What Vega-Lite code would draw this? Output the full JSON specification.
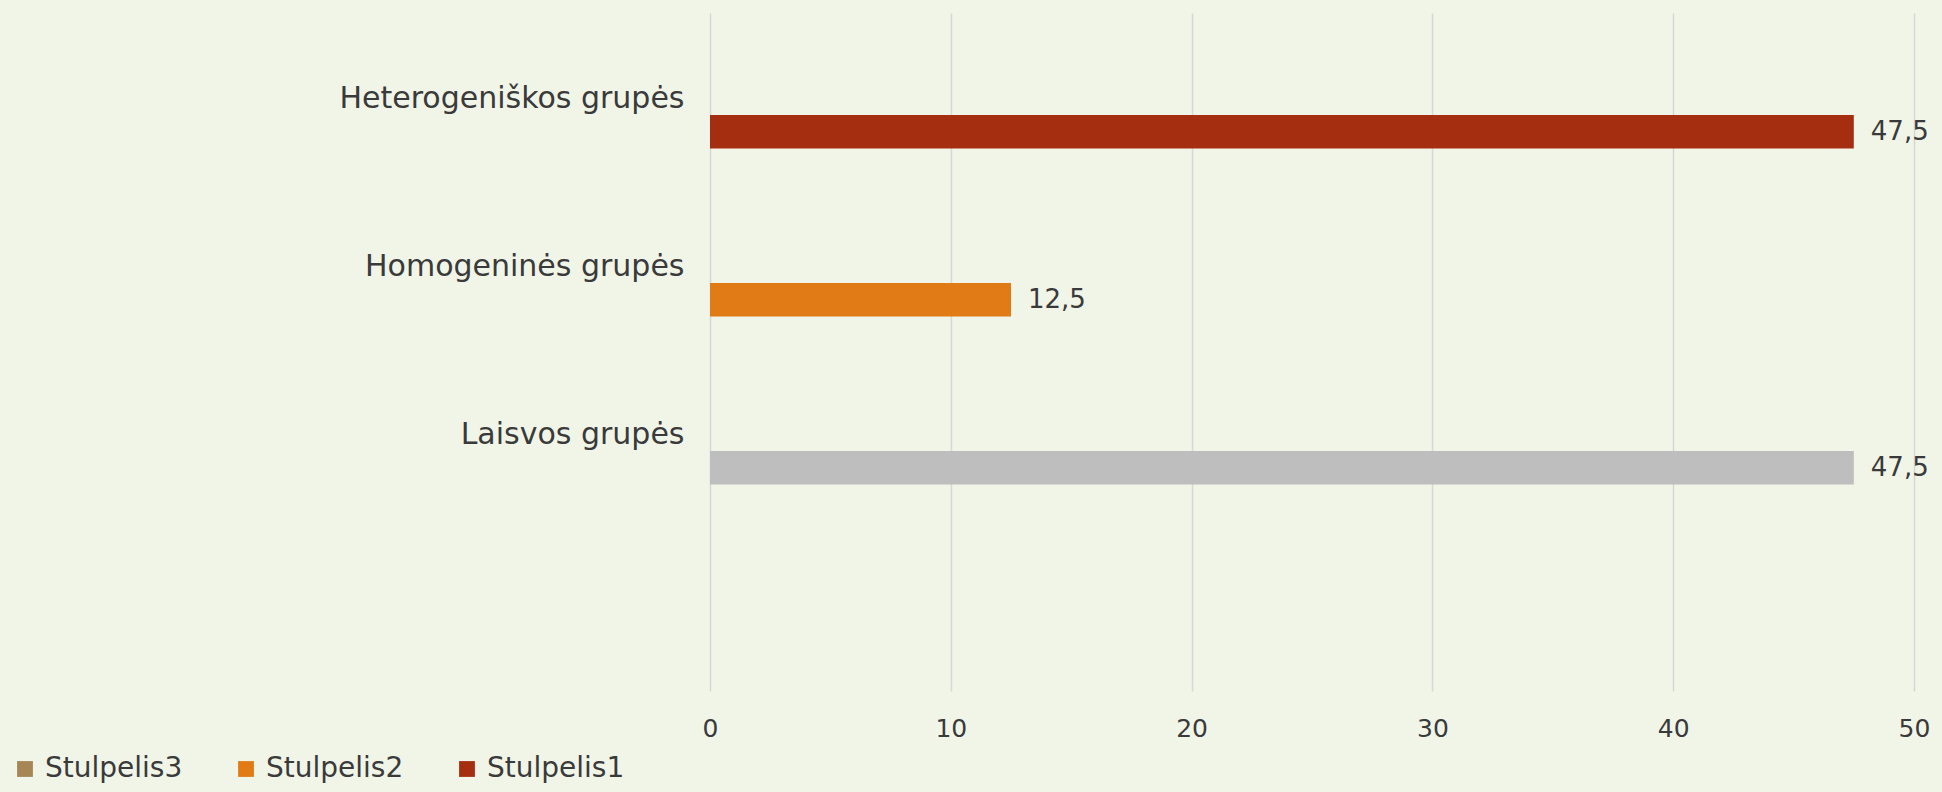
{
  "$schema": "https://vega.github.io/schema/vega-lite/v6.json",
  "width": 1204,
  "height": 672,
  "autosize": {"type": "none"},
  "padding": {"left": 710, "top": 13, "right": 28, "bottom": 107},
  "background": "#F1F5E8",
  "config": {
    "view": {"stroke": null},
    "font": "DejaVu Sans",
    "locale": {"number": {"decimal": ",", "thousands": " ", "grouping": [3], "currency": ["", " €"]}}
  },
  "data": {
    "values": [
      {"category": "Heterogeniškos grupės", "series": "Stulpelis1", "value": 47.5},
      {"category": "Homogeninės grupės", "series": "Stulpelis2", "value": 12.5},
      {"category": "Laisvos grupės", "series": "Stulpelis3", "value": 47.5}
    ]
  },
  "encoding": {
    "y": {
      "field": "category",
      "type": "nominal",
      "sort": ["Heterogeniškos grupės", "Homogeninės grupės", "Laisvos grupės"],
      "scale": {"paddingInner": 0.8, "paddingOuter": 0.9, "align": 0.337},
      "axis": {
        "title": null,
        "domain": false,
        "ticks": false,
        "grid": false,
        "labelOffset": -33,
        "labelPadding": 26,
        "labelLimit": 800,
        "labelFontSize": 30,
        "labelColor": "#3A3A3A",
        "labelFont": "DejaVu Sans"
      }
    },
    "x": {
      "field": "value",
      "type": "quantitative",
      "scale": {"domain": [0, 50], "nice": false},
      "axis": {
        "title": null,
        "values": [0, 10, 20, 30, 40, 50],
        "domain": false,
        "grid": true,
        "gridColor": "#D6D6D6",
        "gridWidth": 1.5,
        "tickColor": "#D6D6D6",
        "tickWidth": 1.5,
        "tickSize": 6,
        "labelFlush": false,
        "labelPadding": 25,
        "labelFontSize": 25,
        "labelColor": "#3A3A3A",
        "labelFont": "DejaVu Sans"
      }
    }
  },
  "layer": [
    {
      "mark": {"type": "bar"},
      "encoding": {
        "color": {
          "condition": {"test": "datum.category === 'Laisvos grupės'", "value": "#BEBEBE"},
          "field": "series",
          "type": "nominal",
          "scale": {
            "domain": ["Stulpelis3", "Stulpelis2", "Stulpelis1"],
            "range": ["#A68655", "#E07B16", "#A52E10"]
          },
          "legend": {
            "title": null,
            "orient": "none",
            "direction": "horizontal",
            "legendX": -699,
            "legendY": 742,
            "symbolType": "square",
            "symbolSize": 250,
            "symbolStrokeWidth": 0,
            "labelFontSize": 28,
            "labelColor": "#3A3A3A",
            "labelFont": "DejaVu Sans",
            "labelOffset": 6,
            "columnPadding": 49
          }
        }
      }
    },
    {
      "mark": {"type": "text", "align": "left", "baseline": "middle", "dx": 17, "fontSize": 26, "color": "#3A3A3A"},
      "encoding": {
        "text": {"field": "value", "type": "quantitative", "format": ".1f"}
      }
    }
  ]
}
